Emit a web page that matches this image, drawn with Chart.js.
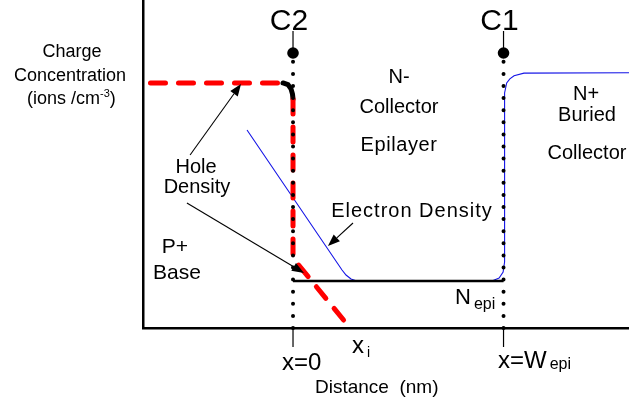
<!DOCTYPE html>
<html>
<head>
<meta charset="utf-8">
<script src="https://cdn.jsdelivr.net/npm/chart.js@4/dist/chart.umd.min.js"></script>
<style>
  html, body { margin: 0; padding: 0; background: #fff; }
  canvas { display: block; }
</style>
</head>
<body>
<canvas id="chart" width="629" height="404"></canvas>
<script>
// Distance axis: 0 at the base/collector junction (x=0), 1 at the epilayer edge (x=W_epi)
const X_MIN = -0.7126, X_MAX = 1.596;
// Charge concentration, linear arbitrary units
const Y_MIN = 0, Y_MAX = 10;

// Hole density: P+ plateau, rounded corner at the junction, fall into the epilayer
const holeX = [-0.677, -0.0475, -0.0238, -0.0095, -0.0024, 0, 0, 0.271];
const holeY = [7.47, 7.47, 7.42, 7.29, 7.13, 6.98, 2.13, 0];
// segments of the hole curve drawn as the solid black corner
const holeCornerSegments = [1, 2, 3, 4];

// Electron density: injected slope, N_epi floor, rise into the N+ buried collector
const electronX = [-0.2185, 0.2328, 0.2518, 0.2755, 0.2993, 0.3278, 0.945, 0.979, 0.998, 1.005,
                   1.005, 1.015, 1.030, 1.050, 1.097, 1.596];
const electronY = [6.037, 1.768, 1.616, 1.494, 1.442, 1.433, 1.433, 1.524, 1.707, 2.012,
                   7.165, 7.47, 7.595, 7.69, 7.77, 7.78];

// Epilayer doping level N_epi
const nepiX = [0, 1];
const nepiY = [1.433, 1.433];

// Contacts C2 (x=0) and C1 (x=W_epi)
const contactNames = ['C2', 'C1'];
const contactX = [0, 1];
const contactTopY = 8.384;

// Annotation arrows: [tail, tip] in axis units
const arrows = [
  { from: [-0.489, 5.274], to: [-0.247, 7.439] },
  { from: [-0.504, 3.811], to: [0.052, 1.677] },
  { from: [0.285, 3.201], to: [0.166, 2.50] }
];

const pts = (xs, ys) => xs.map((x, i) => ({ x, y: ys[i] }));
const FONT = '"Liberation Sans", Arial, Helvetica, sans-serif';

const datasets = [];

// electron density (thin blue, bottom layer)
datasets.push({
  data: pts(electronX, electronY), showLine: true, pointRadius: 0,
  borderColor: '#1414e6', borderWidth: 1.1, order: 6
});
// N_epi level
datasets.push({
  data: pts(nepiX, nepiY), showLine: true, pointRadius: 0,
  borderColor: '#000', borderWidth: 2.4, order: 5
});
// hole density (red dashed, black rounded corner)
datasets.push({
  data: pts(holeX, holeY), showLine: true, pointRadius: 0,
  borderColor: '#ff0000', borderWidth: 5, borderDash: [15, 13],
  borderCapStyle: 'round', borderJoinStyle: 'round', order: 4, clip: false,
  segment: {
    borderColor: c => holeCornerSegments.includes(c.p0DataIndex) ? '#000' : undefined,
    borderDash: c => holeCornerSegments.includes(c.p0DataIndex) ? [] : undefined
  }
});
// dotted verticals at the contacts
contactX.forEach(x => {
  datasets.push({
    data: [{ x, y: 0 }, { x, y: contactTopY }], showLine: true, pointRadius: 0,
    borderColor: '#000', borderWidth: 4, borderDash: [0, 12.1],
    borderCapStyle: 'round', order: 3, clip: false
  });
});
// contact dots
datasets.push({
  data: contactX.map(x => ({ x, y: contactTopY })), showLine: false,
  pointRadius: 5.8, pointBackgroundColor: '#000', pointBorderWidth: 0, order: 2, clip: false
});

function text(ctx, s, x, y, size, align = 'center', spacing = 0) {
  ctx.font = size + 'px ' + FONT;
  ctx.letterSpacing = spacing + 'px';
  ctx.textAlign = align;
  ctx.textBaseline = 'alphabetic';
  ctx.fillText(s, x, y);
  ctx.letterSpacing = '0px';
  ctx.font = size + 'px ' + FONT;
  return ctx.measureText(s).width + spacing * s.length;
}

const annotations = {
  id: 'annotations',
  afterDatasetsDraw(chart) {
    const { ctx, scales: { x: sx, y: sy }, chartArea } = chart;
    const px = v => sx.getPixelForValue(v);
    const py = v => sy.getPixelForValue(v);
    ctx.save();
    ctx.fillStyle = '#000';
    ctx.strokeStyle = '#000';

    // contact labels and leaders
    contactX.forEach((cx, i) => {
      const x = px(cx);
      text(ctx, contactNames[i], x - 4, 30, 30);
      ctx.lineWidth = 1.2;
      ctx.beginPath();
      ctx.moveTo(x, 31); ctx.lineTo(x, py(contactTopY) - 4);
      ctx.moveTo(x, chartArea.bottom); ctx.lineTo(x, chartArea.bottom + 19);
      ctx.stroke();
    });

    // arrows
    arrows.forEach(a => {
      const x0 = px(a.from[0]), y0 = py(a.from[1]);
      const x1 = px(a.to[0]), y1 = py(a.to[1]);
      const ang = Math.atan2(y1 - y0, x1 - x0);
      const L = 12, W = 4.6;
      const bx = x1 - L * Math.cos(ang), by = y1 - L * Math.sin(ang);
      ctx.lineWidth = 1.1;
      ctx.beginPath(); ctx.moveTo(x0, y0); ctx.lineTo(bx, by); ctx.stroke();
      ctx.beginPath();
      ctx.moveTo(x1, y1);
      ctx.lineTo(bx + W * Math.sin(ang), by - W * Math.cos(ang));
      ctx.lineTo(bx - W * Math.sin(ang), by + W * Math.cos(ang));
      ctx.closePath(); ctx.fill();
    });

    // y-axis caption
    text(ctx, 'Charge', 72, 57, 18);
    text(ctx, 'Concentration', 70, 81, 18);
    let w = text(ctx, '(ions /cm', 27, 104, 18, 'left');
    let w2 = text(ctx, '-3', 27 + w, 97, 11, 'left');
    text(ctx, ')', 27 + w + w2, 104, 18, 'left');

    // region labels
    text(ctx, 'N-', 399, 83, 20);
    text(ctx, 'Collector', 399, 113, 20);
    text(ctx, 'Epilayer', 399, 151, 20, 'center', 0.6);
    text(ctx, 'N+', 586, 100, 20);
    text(ctx, 'Buried', 587, 121, 20);
    text(ctx, 'Collector', 587, 159, 20);
    text(ctx, 'P+', 175, 253, 21);
    text(ctx, 'Base', 177, 279, 21);

    // curve labels
    text(ctx, 'Hole', 196, 173, 20);
    text(ctx, 'Density', 197, 193, 20);
    text(ctx, 'Electron Density', 412, 217, 20, 'center', 1);
    w = text(ctx, 'N', 455, 304, 22, 'left');
    text(ctx, 'epi', 455 + w + 3, 309, 16, 'left');

    // distance markers
    text(ctx, 'x=0', 282, 370, 24, 'left');
    w = text(ctx, 'x', 352, 353, 24, 'left');
    text(ctx, 'i', 352 + w + 3, 357, 14, 'left');
    w = text(ctx, 'x=W', 498, 368, 24, 'left');
    text(ctx, 'epi', 498 + w + 3, 369, 16, 'left');

    // x-axis caption
    text(ctx, 'Distance  (nm)', 315, 393, 19, 'left');
    ctx.restore();
  }
};

new Chart(document.getElementById('chart'), {
  type: 'scatter',
  data: { datasets },
  options: {
    responsive: false,
    animation: false,
    devicePixelRatio: 1,
    layout: { autoPadding: false, padding: { left: 143, top: 0, right: 0, bottom: 76 } },
    plugins: { legend: { display: false }, tooltip: { enabled: false } },
    scales: {
      x: {
        type: 'linear', min: X_MIN, max: X_MAX,
        grid: { display: false }, ticks: { display: false },
        border: { display: true, color: '#000', width: 2.5 },
        afterFit(s) { s.height = 0; }
      },
      y: {
        type: 'linear', min: Y_MIN, max: Y_MAX,
        grid: { display: false }, ticks: { display: false },
        border: { display: true, color: '#000', width: 2.5 },
        afterFit(s) { s.width = 0; }
      }
    }
  },
  plugins: [annotations]
});
</script>
</body>
</html>
